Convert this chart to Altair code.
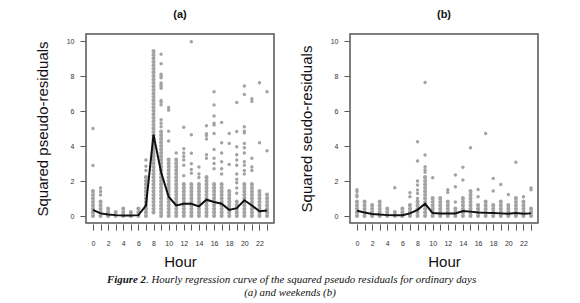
import altair as alt
import pandas as pd

hours = list(range(24))

# ---- panel (a): ordinary days ----
a_dense_bottom = [0, 0, 0, 0, 0, 0, 0, 0, 0.2, 0, 0, 0, 0, 0, 0, 0, 0, 0, 0, 0, 0, 0, 0, 0]
a_dense_top = [1.6, 1.0, 0.6, 0.4, 0.45, 0.3, 0.5, 2.4, 9.45, 4.9, 3.4, 3.4,
               1.9, 1.9, 1.85, 2.35, 1.95, 1.9, 1.6, 1.0, 2.0, 1.9, 1.6, 1.25]
a_out_hour = [0, 0, 1, 1, 1, 7, 7, 7,
              9, 9, 9, 9, 9, 9, 9, 9, 9, 9, 9, 9, 9, 9, 9,
              10, 10, 10, 10, 11,
              12, 12, 12, 12, 12, 12, 12,
              13, 13, 13, 13, 13, 13,
              14, 14, 14,
              15, 15, 15, 15, 15, 15,
              16, 16, 16, 16, 16, 16, 16, 16, 16, 16,
              17, 17, 17, 17, 17, 17,
              18, 18, 18,
              19, 19, 19, 19, 19, 19, 19, 19, 19, 19, 19,
              20, 20, 20, 20, 20, 20, 20, 20, 20, 20, 20, 20,
              21, 21, 21, 21, 21,
              22, 22,
              23, 23]
a_out_value = [5.0, 2.88, 1.2, 1.4, 1.6, 2.6, 2.85, 3.2,
               9.25, 8.7, 8.1, 8.0, 7.9, 7.6, 7.5, 7.4, 7.3, 6.6, 6.5, 6.35, 5.5, 5.3, 5.1,
               6.2, 6.05, 4.85, 4.28, 3.6,
               5.07, 3.85, 3.6, 3.4, 3.2, 2.9, 2.3,
               9.96, 4.64, 3.58, 2.98, 2.66, 2.44,
               2.8, 2.4, 2.2,
               5.16, 4.7, 4.6, 4.4, 3.5, 3.3,
               7.1, 6.35, 5.72, 5.3, 5.2, 4.72, 3.8, 3.3, 3.0, 2.7,
               5.35, 4.19, 3.6, 3.1, 2.7, 2.4,
               4.72, 4.15, 2.95,
               6.49, 4.83, 3.96, 3.5, 3.2, 2.9, 2.4, 2.1, 1.9, 1.6, 1.3,
               7.43, 6.95, 5.1, 4.85, 4.75, 4.15, 3.9, 3.6, 3.1, 2.9, 2.6, 2.4,
               6.7, 6.55, 3.3, 2.8, 2.6,
               7.62, 4.19,
               7.1, 3.73]
a_curve = [0.35, 0.15, 0.08, 0.05, 0.03, 0.03, 0.05, 0.6, 4.65, 2.5, 1.1, 0.6,
           0.7, 0.7, 0.55, 0.93, 0.8, 0.7, 0.35, 0.45, 0.9, 0.6, 0.27, 0.32]

# ---- panel (b): weekends ----
b_dense_bottom = [0] * 24
b_dense_top = [0.95, 1.0, 0.72, 0.85, 0.47, 0.38, 0.47, 0.72, 0.85, 2.34, 1.16, 1.16,
               0.91, 0.53, 1.2, 1.58, 0.8, 0.87, 0.8, 1.0, 0.72, 1.04, 0.95, 0.55]
b_out_hour = [0, 0, 0, 0, 5, 7, 7,
              8, 8, 8, 8, 8, 8, 8,
              9, 9, 9, 9, 9,
              10, 12, 12, 13, 13, 13, 14, 14, 15, 16, 16, 17, 18, 18, 19, 20, 21, 22, 23, 23]
b_out_value = [1.1, 1.2, 1.4, 1.5, 1.62, 1.1, 1.33,
               4.24, 3.14, 2.0, 1.77, 1.48, 1.28, 1.0,
               7.63, 3.49, 2.82, 2.65, 2.5,
               2.19, 1.35, 1.5, 2.34, 1.67, 0.8, 2.78, 2.06, 3.9, 1.52, 1.1, 4.72, 2.15, 1.43,
               1.8, 1.23, 3.07, 1.1, 1.5, 1.6]
b_curve = [0.3, 0.2, 0.12, 0.08, 0.05, 0.04, 0.04, 0.15, 0.35, 0.7, 0.17, 0.15,
           0.15, 0.15, 0.28, 0.25, 0.2, 0.18, 0.17, 0.15, 0.13, 0.17, 0.13, 0.15]

x_ticks = hours
y_ticks = [0, 2, 4, 6, 8, 10]
caption_bold = ["Figure 2"]
caption_line1 = [". Hourly regression curve of the squared pseudo residuals for ordinary days"]
caption_line2 = ["(a) and weekends (b)"]

SANS = "Liberation Sans"
SERIF = "Liberation Serif"
DOT = "#a3a3a3"


def panel(title, ytitle, d_bot, d_top, o_h, o_v, curve):
    dense = pd.DataFrame({"hour": hours, "bot": d_bot, "top": d_top})
    outl = pd.DataFrame({"hour": o_h, "value": o_v})
    line = pd.DataFrame({"hour": hours, "fit": curve})
    xs = alt.Scale(domain=[-0.92, 23.92], nice=False, zero=False)
    ys = alt.Scale(domain=[-0.4, 10.4], nice=False, zero=False)
    xaxis = alt.Axis(values=x_ticks, labelExpr="datum.value % 2 === 0 ? datum.label : ''",
                     labelOverlap=False, labelFlush=False,
                     labelFont=SANS, labelFontSize=7, labelColor="#333", labelAngle=0,
                     tickColor="#555", tickSize=6, offset=1, domain=False, grid=False,
                     labelPadding=9, title="Hour", titleFont=SANS, titleFontSize=15,
                     titleFontWeight="normal", titleColor="#111", titlePadding=8)
    yaxis = alt.Axis(values=y_ticks, labelOverlap=False, labelFlush=False,
                     labelFont=SANS, labelFontSize=7, labelColor="#333",
                     tickColor="#555", tickSize=5, offset=1, domain=False, grid=False,
                     labelPadding=6, title=ytitle, titleFont=SANS, titleFontSize=15,
                     titleFontWeight="normal", titleColor="#111", titlePadding=16)
    X = lambda f: alt.X(f, type="quantitative", scale=xs, axis=xaxis)
    Y = lambda f: alt.Y(f, type="quantitative", scale=ys, axis=yaxis)
    cols = alt.Chart(dense).mark_rule(color=DOT, strokeWidth=4, strokeCap="round",
                                      strokeDash=[0.5, 3]).encode(
        x=X("hour"), y=Y("bot"), y2="top:Q")
    pts = alt.Chart(outl).mark_circle(color=DOT, size=12, opacity=1).encode(
        x=X("hour"), y=Y("value"))
    ln = alt.Chart(line).mark_line(color="#111", strokeWidth=2).encode(
        x=X("hour"), y=Y("fit"))
    return alt.layer(cols, pts, ln).properties(
        width=188, height=189,
        title=alt.TitleParams(title, font=SANS, fontSize=11, fontWeight="bold",
                              color="#111", offset=14))


pa = panel("(a)", "Squared pseudo-residuals", a_dense_bottom, a_dense_top,
           a_out_hour, a_out_value, a_curve)
pb = panel("(b)", "Squared seudo-residuals", b_dense_bottom, b_dense_top,
           b_out_hour, b_out_value, b_curve)

top = alt.hconcat(pa, pb, spacing=23)

cap_df = pd.DataFrame({"bold": caption_bold, "l1": caption_line1, "l2": caption_line2})
base = alt.Chart(cap_df)
c1 = base.mark_text(font=SERIF, fontSize=10.9, fontStyle="italic", fontWeight="bold",
                    align="right", baseline="alphabetic", color="#111").encode(
    text="bold:N", x=alt.value(60), y=alt.value(12))
c2 = base.mark_text(font=SERIF, fontSize=10.9, fontStyle="italic",
                    align="left", baseline="alphabetic", color="#111").encode(
    text="l1:N", x=alt.value(60), y=alt.value(12))
c3 = base.mark_text(font=SERIF, fontSize=10.9, fontStyle="italic",
                    align="center", baseline="alphabetic", color="#111").encode(
    text="l2:N", x=alt.value(204), y=alt.value(25))
caption = alt.layer(c1, c2, c3).properties(width=400, height=24,
                                           view=alt.ViewBackground(stroke="transparent"))

chart = alt.vconcat(top, caption, spacing=0).properties(
    padding={"left": 26, "top": 0, "right": 0, "bottom": 0}
).configure_view(stroke="#555", strokeWidth=1.5).configure_axis(labelOverlap=False)

chart.save("out.html", embed_options={"renderer": "svg", "actions": False})
